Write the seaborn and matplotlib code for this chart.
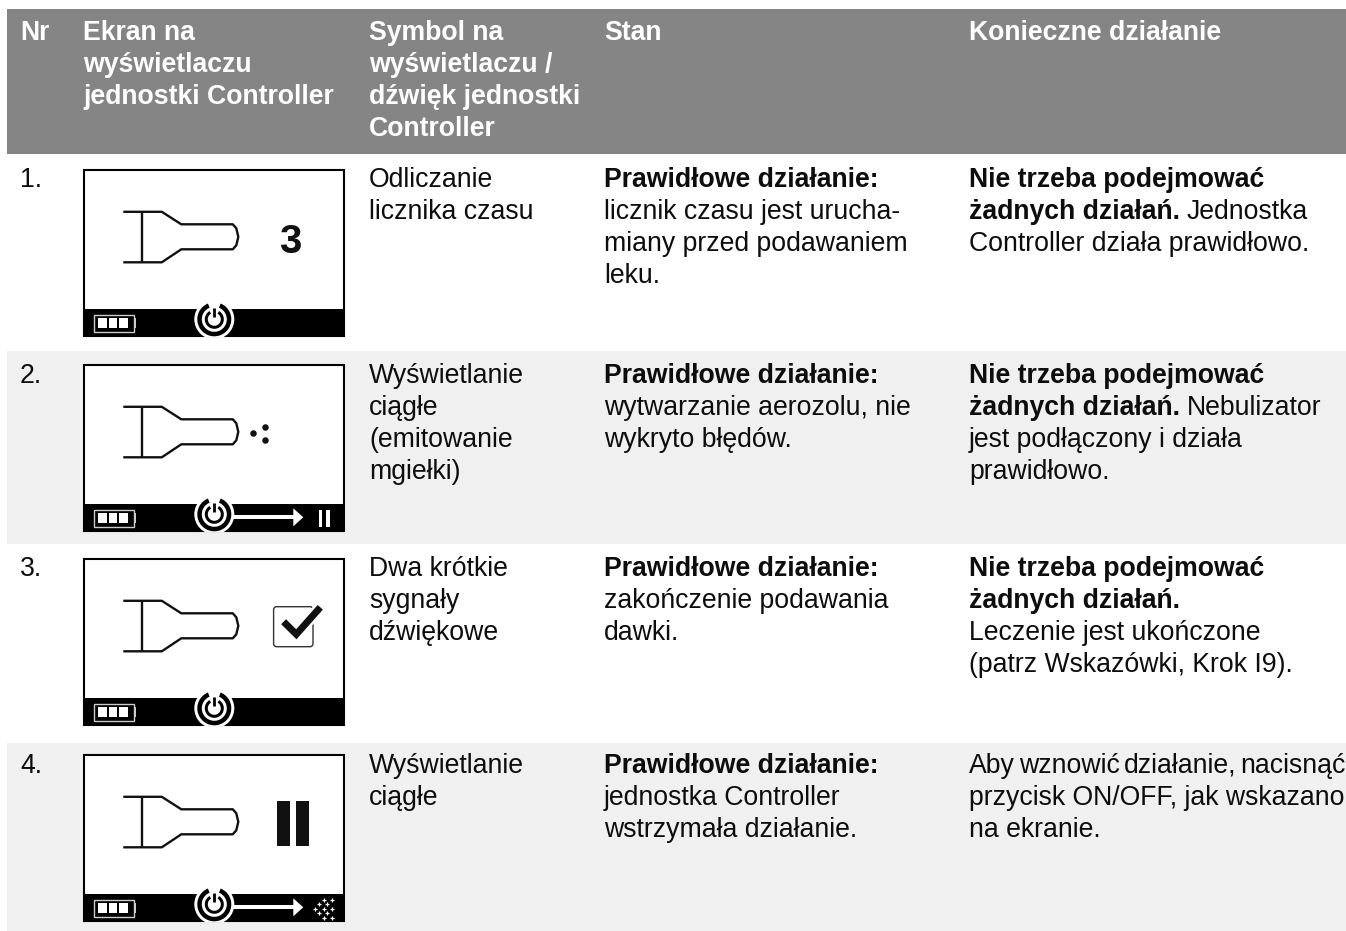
import matplotlib
matplotlib.use("Agg")
import matplotlib.pyplot as plt
from matplotlib.patches import Rectangle, Circle, Polygon, FancyBboxPatch, Wedge
import seaborn as sns

sns.set_theme(style="white")
plt.rcParams["font.family"] = ["Liberation Sans", "DejaVu Sans"]

W, H = 1346, 931
FS = 19.2
LH = 32
INK = "#0d0d0d"

HEADER_BG = "#858585"
ROW_BG = "#f0f0f0"
col_x = [20, 83, 369, 604, 969]
headers = [
    ["Nr"],
    ["Ekran na", "wyświetlaczu", "jednostki Controller"],
    ["Symbol na", "wyświetlaczu /", "dźwięk jednostki", "Controller"],
    ["Stan"],
    ["Konieczne działanie"],
]
row_numbers = ["1.", "2.", "3.", "4."]
symbol_col = [
    ["Odliczanie", "licznika czasu"],
    ["Wyświetlanie", "ciągłe", "(emitowanie", "mgiełki)"],
    ["Dwa krótkie", "sygnały", "dźwiękowe"],
    ["Wyświetlanie", "ciągłe"],
]
state_col = [
    [[("Prawidłowe działanie:", True)], [("licznik czasu jest urucha-", False)],
     [("miany przed podawaniem", False)], [("leku.", False)]],
    [[("Prawidłowe działanie:", True)], [("wytwarzanie aerozolu, nie", False)],
     [("wykryto błędów.", False)]],
    [[("Prawidłowe działanie:", True)], [("zakończenie podawania", False)],
     [("dawki.", False)]],
    [[("Prawidłowe działanie:", True)], [("jednostka Controller", False)],
     [("wstrzymała działanie.", False)]],
]
action_col = [
    [[("Nie trzeba podejmować", True)], [("żadnych działań.", True), (" Jednostka", False)],
     [("Controller działa prawidłowo.", False)]],
    [[("Nie trzeba podejmować", True)], [("żadnych działań.", True), (" Nebulizator", False)],
     [("jest podłączony i działa", False)], [("prawidłowo.", False)]],
    [[("Nie trzeba podejmować", True)], [("żadnych działań.", True)],
     [("Leczenie jest ukończone", False)], [("(patrz Wskazówki, Krok I9).", False)]],
    [[("Aby", False), ("~wznowić", False), ("~działanie,", False), ("~nacisnąć", False)],
     [("przycisk ON/OFF, jak wskazano", False)],
     [("na ekranie.", False)]],
]
row_baselines = [187, 383, 576, 773]
frame_tops = [169.3, 364.3, 558.3, 754.3]
row_bands = [(351, 544), (743, 931)]
BAND_LEFT = 7

fig = plt.figure(figsize=(W / 100, H / 100), dpi=100, facecolor="white")
ax = fig.add_axes([0, 0, 1, 1])
ax.set_xlim(0, W)
ax.set_ylim(H, 0)
ax.axis("off")
fig.canvas.draw()
renderer = fig.canvas.get_renderer()


def runs(x, y, parts):
    for txt, bold in parts:
        if txt.startswith(" "):
            x += 7
        elif txt.startswith("~"):
            x += 4
        s = txt.strip(" ~")
        t = ax.text(x, y, s, fontsize=FS, color=INK, va="baseline", ha="left",
                    fontweight="bold" if bold else "normal")
        x = ax.transData.inverted().transform(t.get_window_extent(renderer))[1][0]


ax.add_patch(Rectangle((BAND_LEFT, 9), W - BAND_LEFT, 145, color=HEADER_BG, lw=0))
for top, bot in row_bands:
    ax.add_patch(Rectangle((BAND_LEFT, top), W - BAND_LEFT, bot - top, color=ROW_BG, lw=0))

for x, lines in zip(col_x, headers):
    for i, line in enumerate(lines):
        ax.text(x, 40 + i * LH, line, color="white", fontsize=FS, fontweight="bold", va="baseline")


def device(top, glyph, arrow, right):
    """Draw the controller screen; local coordinates are pixels from the frame corner."""
    ox, oy = 83.3, top
    def X(v): return ox + v
    def Y(v): return oy + v
    frame = Rectangle((X(1), Y(1)), 260, 166, fc="white", ec="black", lw=1.5, zorder=2)
    ax.add_patch(frame)
    ax.add_patch(Rectangle((X(0), Y(140)), 261.7, 27.7, fc="black", ec="none", zorder=3))
    clip = Rectangle((X(0), Y(0)), 261.7, 167.7, transform=ax.transData)
    # nebulizer outline
    kw = dict(color="#111111", lw=1.7, solid_capstyle="butt", zorder=4)
    ax.plot([X(40), X(78.5), X(98), X(149.5), X(153), X(155), X(153), X(149.5), X(98), X(78.5), X(40)],
            [Y(42.5), Y(42.5), Y(55), Y(55), Y(59), Y(67.5), Y(76), Y(80), Y(80), Y(93), Y(93)], **kw)
    ax.plot([X(58.5), X(58.5)], [Y(42.5), Y(93)], **kw)
    # battery
    ax.add_patch(Rectangle((X(11), Y(145.7)), 39.3, 16.7, fc="black", ec="#cccccc", lw=1.0, zorder=4))
    ax.add_patch(Rectangle((X(50.3), Y(149)), 2.2, 10, fc="#cccccc", ec="none", zorder=4))
    for cx0, w in ((14.3, 9.4), (25.3, 8.6), (35.3, 9)):
        ax.add_patch(Rectangle((X(cx0), Y(149)), w, 9.5, fc="white", ec="none", zorder=5))
    # power button
    cx, cy = X(131), Y(150)
    halo = Circle((cx, cy), 20, fc="white", ec="none", zorder=4)
    ax.add_patch(halo)
    halo.set_clip_path(clip)
    ax.add_patch(Wedge((cx, cy), 17, -68, 248, width=4.5, fc="black", ec="none", zorder=5))
    ax.add_patch(Wedge((cx, cy), 9.5, -60, 240, width=3, fc="black", ec="none", zorder=5))
    ax.plot([cx, cx], [cy - 11, cy - 2], color="black", lw=2.0, zorder=6, solid_capstyle="butt")
    if arrow:
        ax.plot([X(150), X(211)], [Y(153), Y(153)], color="white", lw=2.9, zorder=4.5, solid_capstyle="butt")
        ax.add_patch(Polygon([(X(210), Y(144)), (X(220), Y(153)), (X(210), Y(162))], fc="white", ec="none", zorder=5))
    if right == "pause":
        for bx in (235.3, 243):
            ax.add_patch(Rectangle((X(bx), Y(146)), 3.4, 17, fc="white", ec="none", zorder=5))
    elif right == "dots":
        dots = [(240.3, 145.7), (248.7, 145.7), (235.3, 150), (243.7, 150), (232, 154.7),
                (240.3, 154.7), (248.7, 154.7), (235.3, 159), (243.7, 159), (240.3, 164), (248.7, 164)]
        ax.scatter([X(a) for a, _ in dots], [Y(b) for _, b in dots], s=12, c="white", marker="+",
                   linewidths=0.9, zorder=5)
    # glyph on the screen
    if glyph == "3":
        ax.text(X(207), Y(83.5), "3", fontsize=29, fontweight="bold",
                ha="center", va="baseline", color="#111111", zorder=4)
    elif glyph == "mist":
        ax.scatter([X(169.7), X(181.7), X(181.7)], [Y(69), Y(62.4), Y(75.7)], s=22, c="#111111", lw=0, zorder=4)
    elif glyph == "check":
        ax.add_patch(FancyBboxPatch((X(190.3), Y(48.4)), 39.4, 40, boxstyle="round,pad=0,rounding_size=3",
                                    fc="white", ec="#333333", lw=1.0, zorder=4))
        pts_x = [X(200.3), X(213), X(237)]
        pts_y = [Y(63.4), Y(76), Y(49)]
        ax.plot(pts_x, pts_y, color="white", lw=8.5, solid_joinstyle="miter", solid_capstyle="butt", zorder=4.5)
        ax.plot(pts_x, pts_y, color="#111111", lw=5, solid_joinstyle="miter", solid_capstyle="butt", zorder=5)
    elif glyph == "pause":
        for bx in (193.7, 213):
            ax.add_patch(Rectangle((X(bx), Y(46.7)), 13, 45.3, fc="#111111", ec="none", zorder=4))


device(frame_tops[0], "3", False, None)
device(frame_tops[1], "mist", True, "pause")
device(frame_tops[2], "check", False, None)
device(frame_tops[3], "pause", True, "dots")

for i, base in enumerate(row_baselines):
    ax.text(col_x[0], base, row_numbers[i], fontsize=FS, color=INK, va="baseline")
    for j, line in enumerate(symbol_col[i]):
        ax.text(col_x[2], base + j * LH, line, fontsize=FS, color=INK, va="baseline")
    for j, parts in enumerate(state_col[i]):
        runs(col_x[3], base + j * LH, parts)
    for j, parts in enumerate(action_col[i]):
        runs(col_x[4], base + j * LH, parts)

fig.savefig("out.png", dpi=100, facecolor="white")
